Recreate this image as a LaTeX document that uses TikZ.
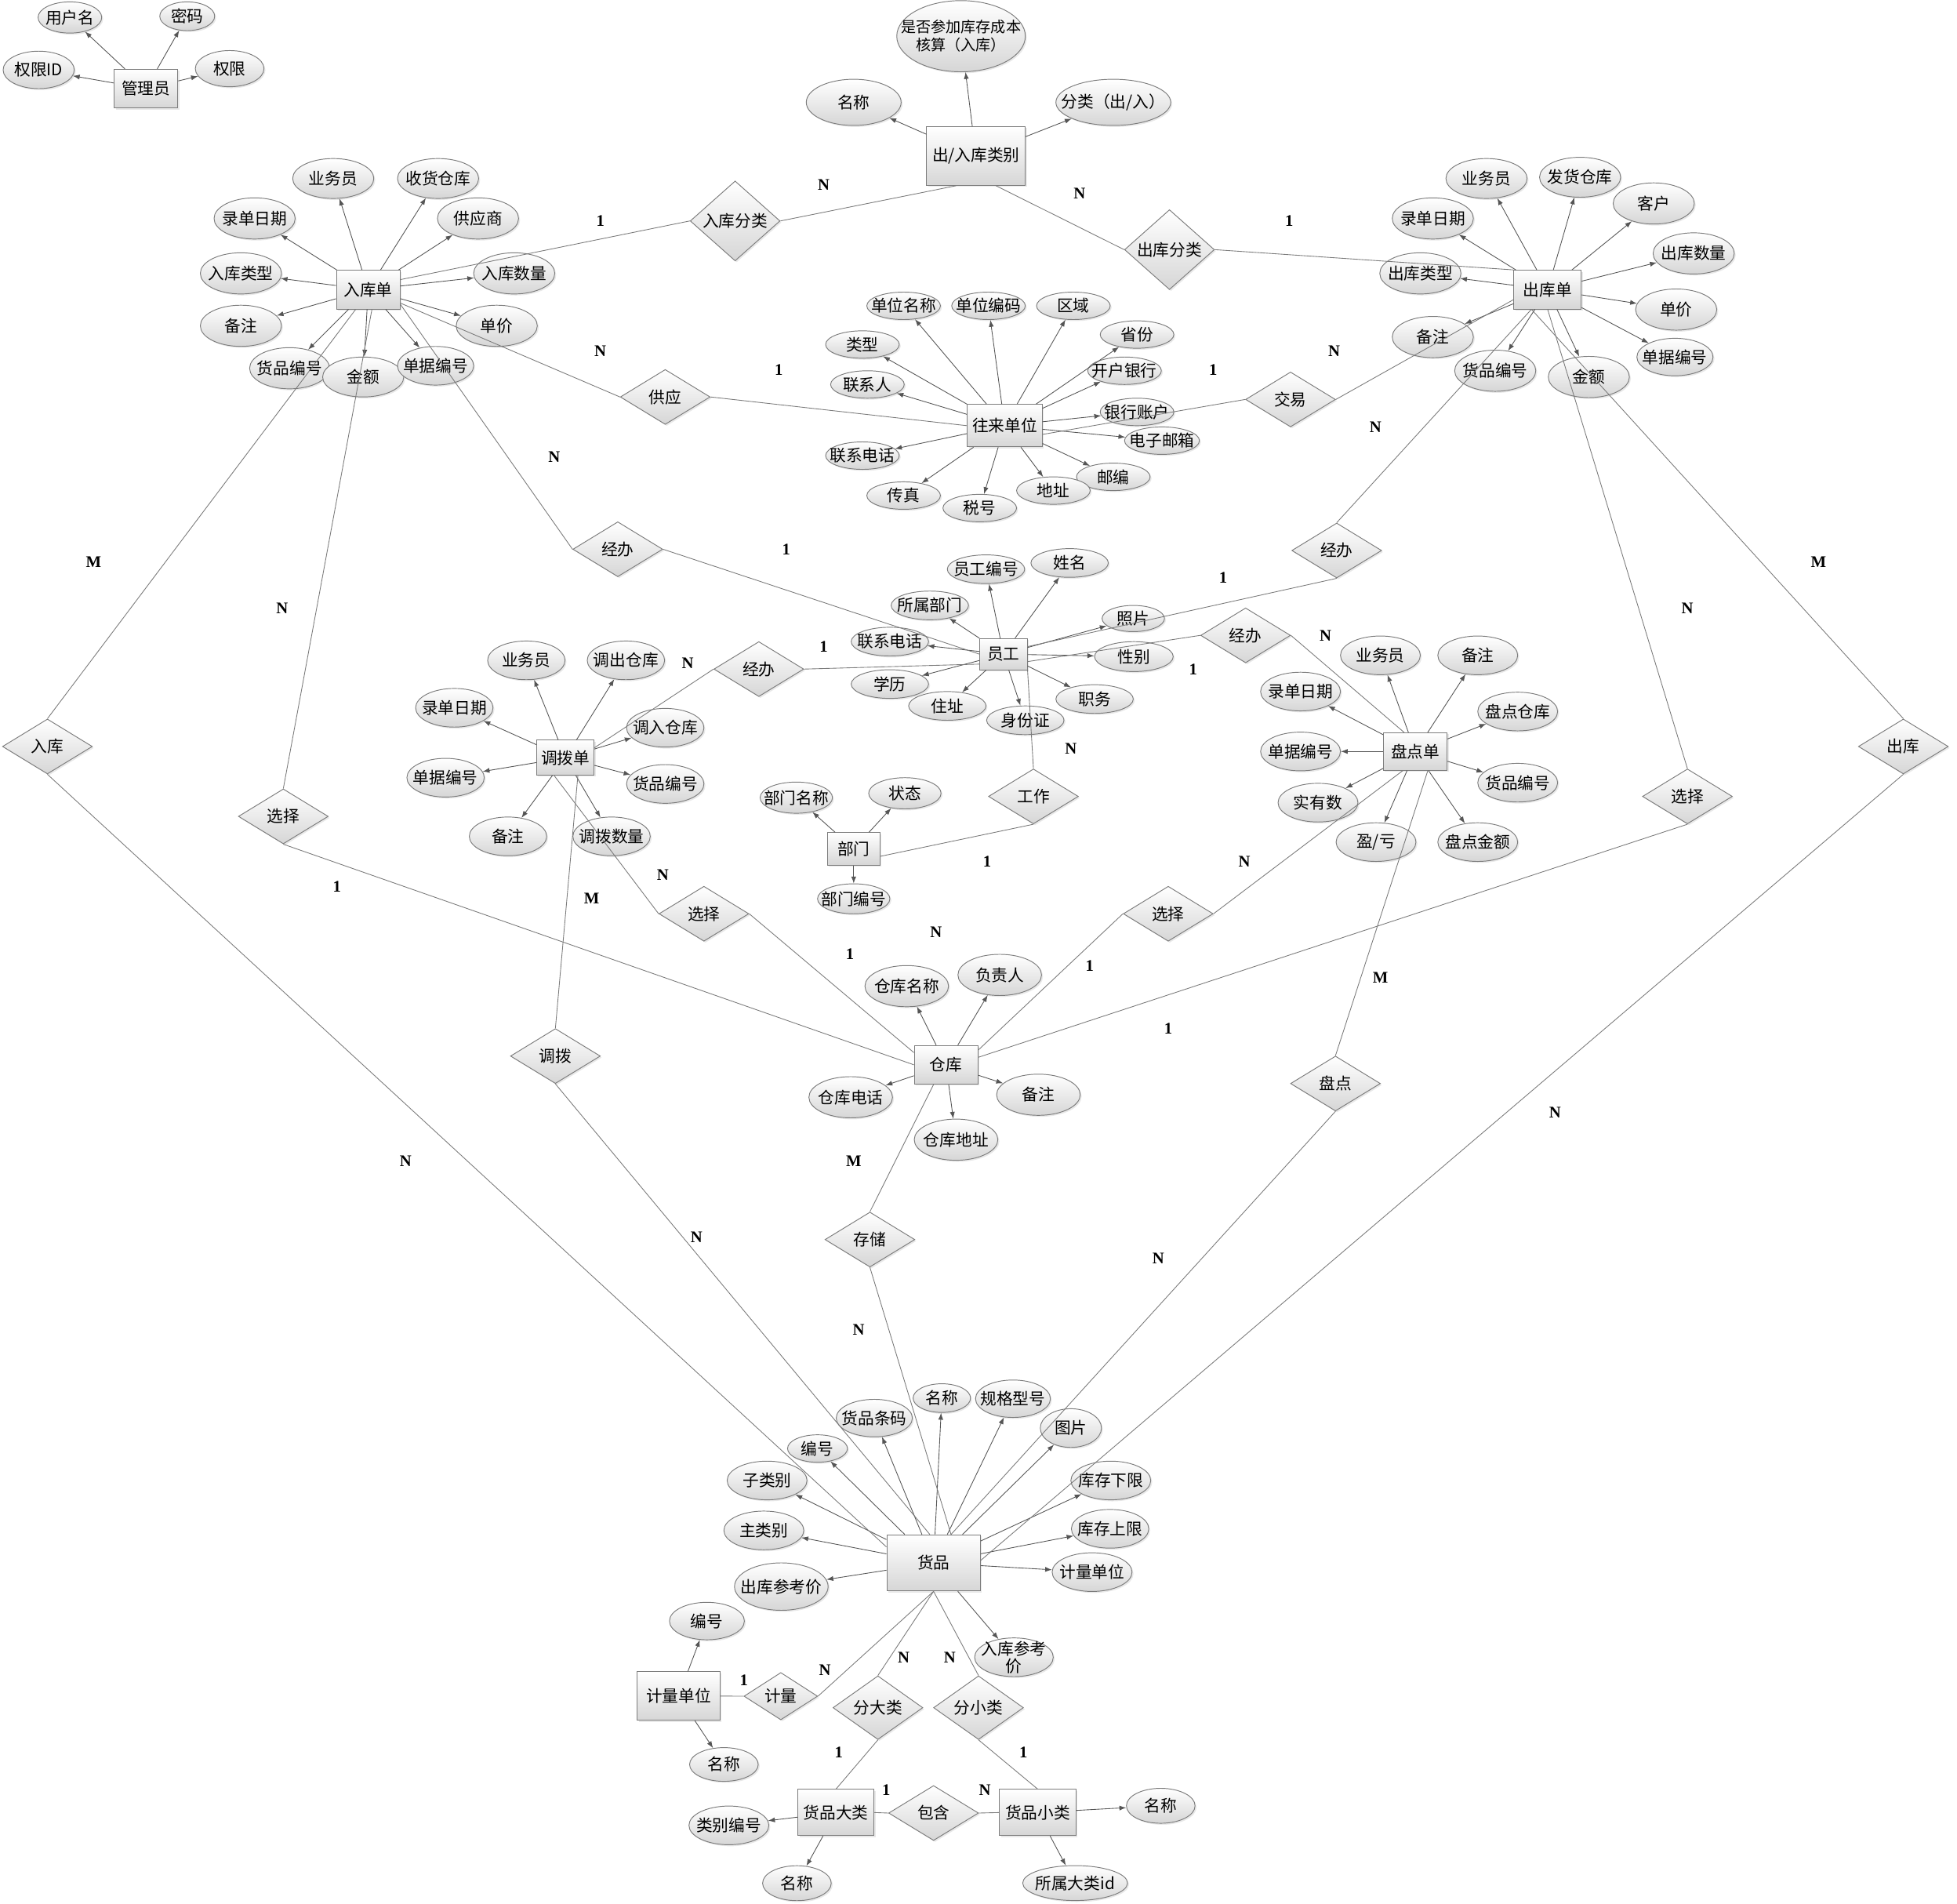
\documentclass[tikz,border=0pt]{standalone}
\usepackage{fontspec}
\newfontfamily\cjk{Noto Sans CJK SC}
\newfontfamily\cardfont{Liberation Serif}
\usetikzlibrary{shapes.geometric,arrows.meta,shadows}
\definecolor{bcol}{HTML}{7C7C7C}
\definecolor{lcol}{HTML}{7A7A7A}
\definecolor{acol}{HTML}{555555}
\definecolor{fcol}{HTML}{D6D6D6}
\tikzset{
  base/.style={draw=bcol, line width=0.6pt, top color=white, bottom color=fcol,
    font=\cjk\fontsize{13}{15}\selectfont, text=black,
    drop shadow={shadow xshift=1.2pt, shadow yshift=-1.2pt, opacity=0.18}},
  ent/.style 2 args={base, rectangle, inner sep=1pt, minimum width=#1 pt, minimum height=#2 pt},
  at/.style 2 args={base, ellipse, inner xsep=-11pt, inner ysep=-5pt, minimum width=#1 pt, minimum height=#2 pt},
  rel/.style={base, diamond, inner sep=0pt, minimum width=72pt, minimum height=44pt},
  ar/.style={draw=acol, line width=0.55pt, -{Latex[length=5.5pt,width=4pt]}},
  ln/.style={draw=lcol, line width=0.55pt},
  cd/.style={font=\cardfont\bfseries\fontsize{13}{13}\selectfont, inner sep=0pt}
}
\begin{document}
\begin{tikzpicture}[x=1pt,y=-1pt]
\useasboundingbox (0,0) rectangle (1568,1525);

% ---------- 管理员 ----------
\node[ent={51}{31}] (gly) at (117,71) {管理员};
\node[at={51}{25}] (g1) at (56,14) {用户名};
\node[at={44}{23}] (g2) at (150,13) {密码};
\node[at={57}{30}] (g3) at (31,56) {权限ID};
\node[at={55}{29}] (g4) at (184,55) {权限};

% ---------- 入库单 ----------
\node[ent={51}{31}] (rk) at (295,232) {入库单};
\node[at={65}{32}] (r1) at (267,143) {业务员};
\node[at={65}{32}] (r2) at (351,143) {收货仓库};
\node[at={65}{33}] (r3) at (204,175) {录单日期};
\node[at={65}{33}] (r4) at (383,175) {供应商};
\node[at={65}{33}] (r5) at (193,219) {入库类型};
\node[at={65}{33}] (r6) at (412,219) {入库数量};
\node[at={65}{33}] (r7) at (193,261) {备注};
\node[at={65}{33}] (r8) at (398,261) {单价};
\node[at={64}{33}] (r9) at (232,295) {货品编号};
\node[at={65}{32}] (r10) at (291,302) {金额};
\node[at={61}{31}] (r11) at (349,293) {单据编号};

% ---------- 出/入库类别 ----------
\node[ent={79}{47}] (lb) at (782,125) {出/入库类别};
\node[at={103}{57}, inner xsep=-15pt, font=\cjk\fontsize{12}{14.5}\selectfont, align=center] (l1) at (770,29) {是否参加库存成本\\核算（入库）};
\node[at={76}{37}] (l2) at (684,82) {名称};
\node[at={92}{37}] (l3) at (892,82) {分类（出/入）};

% ---------- 出库单 ----------
\node[ent={54}{31}] (ck) at (1240,232) {出库单};
\node[at={65}{32}] (c1) at (1191,143) {业务员};
\node[at={65}{32}] (c2) at (1266,142) {发货仓库};
\node[at={65}{33}] (c3) at (1325,163) {客户};
\node[at={65}{33}] (c4) at (1148,175) {录单日期};
\node[at={65}{33}] (c5) at (1357,203) {出库数量};
\node[at={65}{33}] (c6) at (1138,219) {出库类型};
\node[at={65}{33}] (c7) at (1343,248) {单价};
\node[at={65}{33}] (c8) at (1148,270) {备注};
\node[at={61}{30}] (c9) at (1342,286) {单据编号};
\node[at={65}{33}] (c10) at (1198,297) {货品编号};
\node[at={65}{33}] (c11) at (1273,302) {金额};

% ---------- 往来单位 ----------
\node[ent={60}{34}] (wl) at (805,341) {往来单位};
\node[at={59}{22}] (w1) at (724,245) {单位名称};
\node[at={59}{22}] (w2) at (792,245) {单位编码};
\node[at={59}{22}] (w3) at (860,245) {区域};
\node[at={59}{22}] (w4) at (691,276) {类型};
\node[at={59}{22}] (w5) at (911,268) {省份};
\node[at={59}{22}] (w6) at (695,308) {联系人};
\node[at={59}{22}] (w7) at (901,297) {开户银行};
\node[at={59}{22}] (w8) at (911,330) {银行账户};
\node[at={60}{22}] (w9) at (931,353) {电子邮箱};
\node[at={59}{22}] (w10) at (691,365) {联系电话};
\node[at={59}{22}] (w11) at (892,382) {邮编};
\node[at={59}{22}] (w12) at (844,393) {地址};
\node[at={59}{22}] (w13) at (724,397) {传真};
\node[at={59}{22}] (w14) at (785,407) {税号};

% ---------- 员工 ----------
\node[ent={38}{25}] (yg) at (804,524) {员工};
\node[at={62}{23}] (y1) at (790,456) {员工编号};
\node[at={62}{23}] (y2) at (857,451) {姓名};
\node[at={62}{23}] (y3) at (745,485) {所属部门};
\node[at={50}{21}] (y4) at (908,495.5) {照片};
\node[at={62}{23}] (y5) at (713,514) {联系电话};
\node[at={63}{24}] (y6) at (908.5,526) {性别};
\node[at={62}{23}] (y7) at (713,548) {学历};
\node[at={62}{23}] (y8) at (759,565.5) {住址};
\node[at={62}{23}] (y9) at (877,560) {职务};
\node[at={62}{23}] (y10) at (821.5,577) {身份证};

% ---------- 部门 ----------
\node[ent={42}{26}] (bm) at (684,680) {部门};
\node[at={58}{25}] (b1) at (638,639) {部门名称};
\node[at={58}{25}] (b2) at (725,635.5) {状态};
\node[at={58}{24}] (b3) at (684,720) {部门编号};

% ---------- 调拨单 ----------
\node[ent={46}{28}] (db) at (453,607) {调拨单};
\node[at={62}{31}] (d1) at (421.7,529) {业务员};
\node[at={62}{31}] (d2) at (501.5,529) {调出仓库};
\node[at={62}{31}] (d3) at (364,567) {录单日期};
\node[at={62}{31}] (d4) at (533,583) {调入仓库};
\node[at={62}{31}] (d5) at (357,623) {单据编号};
\node[at={62}{31}] (d6) at (533,628) {货品编号};
\node[at={62}{31}] (d7) at (407,670) {备注};
\node[at={62}{31}] (d8) at (490,670) {调拨数量};

% ---------- 盘点单 ----------
\node[ent={51}{30}] (pd) at (1134,602) {盘点单};
\node[at={64}{31}] (p1) at (1106,525) {业务员};
\node[at={64}{31}] (p2) at (1184,525) {备注};
\node[at={64}{31}] (p3) at (1042,554) {录单日期};
\node[at={64}{31}] (p4) at (1216,570) {盘点仓库};
\node[at={64}{31}] (p5) at (1042,602) {单据编号};
\node[at={64}{31}] (p6) at (1216,627) {货品编号};
\node[at={64}{31}] (p7) at (1056,643) {实有数};
\node[at={64}{31}] (p8) at (1102.5,674.6) {盈/亏};
\node[at={64}{31}] (p9) at (1184,674.6) {盘点金额};

% ---------- 仓库 ----------
\node[ent={51}{31}] (wh) at (758,853) {仓库};
\node[at={67}{33}] (h1) at (726.5,790) {仓库名称};
\node[at={67}{33}] (h2) at (801,781) {负责人};
\node[at={67}{33}] (h3) at (681.6,879) {仓库电话};
\node[at={67}{33}] (h4) at (832,877) {备注};
\node[at={67}{33}] (h5) at (766,913) {仓库地址};

% ---------- 货品 ----------
\node[ent={75}{45}] (hp) at (748,1252) {货品};
\node[at={46}{23}] (q1) at (754.6,1120) {名称};
\node[at={60}{30}] (q2) at (811.6,1120.5) {规格型号};
\node[at={61}{30}] (q3) at (700.5,1136) {货品条码};
\node[at={48}{22}] (q4) at (655,1160.4) {编号};
\node[at={49}{31}] (q5) at (858,1144) {图片};
\node[at={64}{31}] (q6) at (614.6,1186) {子类别};
\node[at={64}{31}] (q7) at (890,1186) {库存下限};
\node[at={64}{31}] (q8) at (612,1226) {主类别};
\node[at={62}{31}] (q9) at (889.4,1224.7) {库存上限};
\node[at={75}{38}] (q10) at (626,1271) {出库参考价};
\node[at={64}{31}] (q11) at (875,1259.4) {计量单位};
\node[at={63}{31}, align=center, font=\cjk\fontsize{13}{14}\selectfont] (q12) at (812.4,1327.6) {入库参考\\价};

% ---------- 计量单位 / 大类 / 小类 ----------
\node[ent={66}{39}] (jd) at (543.7,1358.7) {计量单位};
\node[at={60}{30}] (j1) at (566.4,1298.6) {编号};
\node[at={55}{27}] (j2) at (580,1413.5) {名称};
\node[ent={61}{37}] (dl) at (669.8,1452) {货品大类};
\node[ent={61}{37}] (xl) at (831.4,1452) {货品小类};
\node[at={64}{31}] (e1) at (584,1462.3) {类别编号};
\node[at={55}{28}] (e2) at (638.5,1508.6) {名称};
\node[at={55}{28}] (f1) at (930,1446.6) {名称};
\node[at={84}{28}] (f2) at (861.4,1508.5) {所属大类id};

% ---------- relationships ----------
\node[rel] (rkfl) at (589,177) {入库分类};
\node[rel] (ckfl) at (937,200) {出库分类};
\node[rel] (gy) at (533,318) {供应};
\node[rel] (jy) at (1034,320) {交易};
\node[rel] (jb1) at (495,440) {经办};
\node[rel] (jb2) at (1071,441) {经办};
\node[rel] (jb3) at (998,509) {经办};
\node[rel] (jb4) at (608,536) {经办};
\node[rel] (gz) at (828,638) {工作};
\node[rel] (rkr) at (38,598) {入库};
\node[rel] (ckr) at (1525,598) {出库};
\node[rel] (xz1) at (227,654) {选择};
\node[rel] (xz2) at (564,732) {选择};
\node[rel] (xz3) at (936,732) {选择};
\node[rel] (xz4) at (1352,638) {选择};
\node[rel] (dbr) at (445,846) {调拨};
\node[rel] (pdr) at (1070,868) {盘点};
\node[rel] (ccr) at (697,993) {存储};
\node[rel, minimum width=59pt, minimum height=37pt] (jl) at (625.6,1358.8) {计量};
\node[rel] (fdl) at (703.4,1368) {分大类};
\node[rel] (fxl) at (784,1368) {分小类};
\node[rel] (bh) at (748,1452.4) {包含};

% ---------- attribute arrows ----------
\foreach \t in {g1,g2,g3,g4} \draw[ar] (gly) -- (\t);
\foreach \t in {r1,r2,r3,r4,r5,r6,r7,r8,r9,r10,r11} \draw[ar] (rk) -- (\t);
\foreach \t in {l1,l2,l3} \draw[ar] (lb) -- (\t);
\foreach \t in {c1,c2,c3,c4,c5,c6,c7,c8,c9,c10,c11} \draw[ar] (ck) -- (\t);
\foreach \t in {w1,w2,w3,w4,w5,w6,w7,w8,w9,w10,w11,w12,w13,w14} \draw[ar] (wl) -- (\t);
\foreach \t in {y1,y2,y3,y4,y5,y6,y7,y8,y9,y10} \draw[ar] (yg) -- (\t);
\foreach \t in {b1,b2,b3} \draw[ar] (bm) -- (\t);
\foreach \t in {d1,d2,d3,d4,d5,d6,d7,d8} \draw[ar] (db) -- (\t);
\foreach \t in {p1,p2,p3,p4,p5,p6,p7,p8,p9} \draw[ar] (pd) -- (\t);
\foreach \t in {h1,h2,h3,h4,h5} \draw[ar] (wh) -- (\t);
\foreach \t in {q1,q2,q3,q4,q5,q6,q7,q8,q9,q10,q11,q12} \draw[ar] (hp) -- (\t);
\foreach \t in {j1,j2} \draw[ar] (jd) -- (\t);
\foreach \t in {e1,e2} \draw[ar] (dl) -- (\t);
\foreach \t in {f1,f2} \draw[ar] (xl) -- (\t);

% ---------- relationship lines ----------
\draw[ln] ([xshift=-16pt]lb.south) -- (rkfl.east);
\draw[ln] (rkfl.west) -- ([yshift=8pt]rk.east);
\draw[ln] ([xshift=16pt]lb.south) -- (ckfl.west);
\draw[ln] (ckfl.east) -- (ck.north west);
\draw[ln] ([yshift=5pt]rk.south east) -- (gy.west);
\draw[ln] (gy.east) -- (wl.west);
\draw[ln] ([yshift=-7pt]wl.east) -- (jy.west);
\draw[ln] (jy.east) -- ([yshift=-8pt]ck.west);
\draw[ln] ([yshift=4pt]rk.south east) -- (jb1.west);
\draw[ln] (jb1.east) -- (yg.west);
\draw[ln] ([xshift=-13pt]ck.south) -- (jb2.north);
\draw[ln] (jb2.south) -- ([yshift=6pt]yg.east);
\draw[ln] ([xshift=-9pt]pd.north) -- (jb3.east);
\draw[ln] (jb3.west) -- ([yshift=-6pt]yg.east);
\draw[ln] ([yshift=8pt]db.east) -- (jb4.west);
\draw[ln] (jb4.east) -- ([yshift=-8pt]yg.west);
\draw[ln] (yg.south east) -- (gz.north);
\draw[ln] (gz.south) -- ([yshift=-6pt]bm.east);
\draw[ln] ([xshift=-10pt]rk.south) -- (rkr.north);
\draw[ln] (rkr.south) -- ([yshift=-10pt]hp.north west);
\draw[ln] ([xshift=3pt]rk.south) -- (xz1.north);
\draw[ln] (xz1.south) -- (wh.west);
\draw[ln] ([xshift=10pt]db.south) -- (dbr.north);
\draw[ln] (dbr.south) -- ([xshift=-3pt]hp.north);
\draw[ln] ([xshift=-9pt]db.south) -- (xz2.west);
\draw[ln] (xz2.east) -- ([yshift=-6pt]wh.north west);
\draw[ln] ([xshift=-10pt]pd.south) -- (xz3.east);
\draw[ln] (xz3.west) -- ([yshift=-4pt]wh.north east);
\draw[ln] (ck.south) -- (xz4.north);
\draw[ln] (xz4.south) -- ([yshift=6pt]wh.east);
\draw[ln] ([xshift=-13pt]ck.south) -- (ckr.north);
\draw[ln] (ckr.south) -- ([yshift=2pt]hp.east);
\draw[ln] ([xshift=10pt]pd.south) -- (pdr.north);
\draw[ln] (pdr.south) -- ([xshift=14pt]hp.north);
\draw[ln] ([xshift=-10pt]wh.south) -- (ccr.north);
\draw[ln] (ccr.south) -- ([xshift=14pt]hp.north);
\draw[ln] (jd.east) -- (jl.west);
\draw[ln] (jl.east) -- (hp.south);
\draw[ln] (hp.south) -- (fdl.north);
\draw[ln] (fdl.south) -- (dl.north);
\draw[ln] (hp.south) -- (fxl.north);
\draw[ln] (fxl.south) -- (xl.north);
\draw[ln] (dl.east) -- (bh.west);
\draw[ln] (bh.east) -- (xl.west);

% ---------- cardinalities ----------
\node[cd] (k1) at (481,177) {1};
\node[cd] (k2) at (660,148) {N};
\node[cd] (k3) at (865,155) {N};
\node[cd] (k4) at (1033,177) {1};
\node[cd] (k5) at (481,281) {N};
\node[cd] (k6) at (624,296) {1};
\node[cd] (k7) at (972,296) {1};
\node[cd] (k8) at (1069,281) {N};
\node[cd] (k9) at (444,366) {N};
\node[cd] (k10) at (630,440) {1};
\node[cd] (k11) at (1102,342) {N};
\node[cd] (k12) at (980,463) {1};
\node[cd] (k13) at (1062,509) {N};
\node[cd] (k14) at (956,536) {1};
\node[cd] (k15) at (551,531) {N};
\node[cd] (k16) at (660,518) {1};
\node[cd] (k17) at (75,450) {M};
\node[cd] (k18) at (325,930) {N};
\node[cd] (k19) at (226,487) {N};
\node[cd] (k20) at (270,710) {1};
\node[cd] (k21) at (531,701) {N};
\node[cd] (k22) at (681,764) {1};
\node[cd] (k23) at (750,747) {N};
\node[cd] (k24) at (474,720) {M};
\node[cd] (k25) at (558,991) {N};
\node[cd] (k26) at (858,600) {N};
\node[cd] (k27) at (791,690) {1};
\node[cd] (k28) at (997,690) {N};
\node[cd] (k29) at (873,774) {1};
\node[cd] (k30) at (1352,487) {N};
\node[cd] (k31) at (936,824) {1};
\node[cd] (k32) at (1457,450) {M};
\node[cd] (k33) at (1246,891) {N};
\node[cd] (k34) at (1106,783) {M};
\node[cd] (k35) at (928,1008) {N};
\node[cd] (k36) at (684,930) {M};
\node[cd] (k37) at (688,1065) {N};
\node[cd] (k38) at (596,1346) {1};
\node[cd] (k39) at (661,1338) {N};
\node[cd] (k40) at (724,1328) {N};
\node[cd] (k41) at (761,1328) {N};
\node[cd] (k42) at (672,1404) {1};
\node[cd] (k43) at (820,1404) {1};
\node[cd] (k44) at (710,1434) {1};
\node[cd] (k45) at (789,1434) {N};
\end{tikzpicture}
\end{document}
